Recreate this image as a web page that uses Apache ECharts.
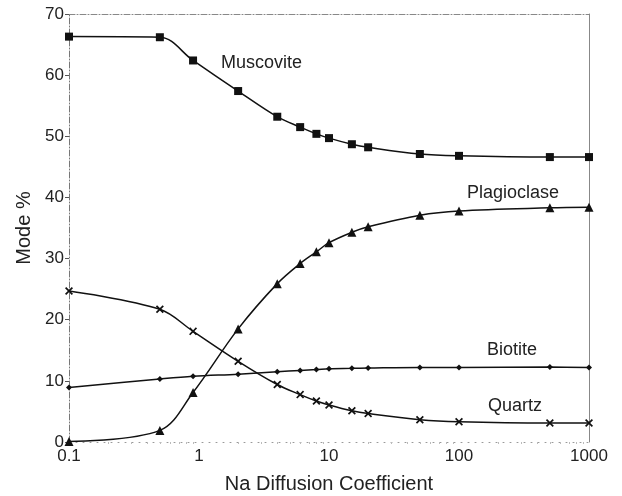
<!DOCTYPE html>
<html><head><meta charset="utf-8">
<script src="https://cdn.jsdelivr.net/npm/echarts@6/dist/echarts.min.js"></script>
<style>html,body{margin:0;padding:0;background:#fff}#c{width:622px;height:496px}</style>
</head><body><div id="c"></div>
<script>
var xValues = [0.1, 0.5, 0.9, 2, 4, 6, 8, 10, 15, 20, 50, 100, 500, 1000];
var muscovite = [66.3, 66.2, 62.4, 57.4, 53.2, 51.5, 50.4, 49.7, 48.7, 48.2, 47.1, 46.8, 46.6, 46.6];
var plagioclase = [0.1, 1.9, 8.1, 18.5, 25.9, 29.2, 31.1, 32.6, 34.3, 35.2, 37.1, 37.8, 38.3, 38.4];
var biotite = [8.9, 10.3, 10.75, 11.1, 11.5, 11.7, 11.85, 12.0, 12.05, 12.1, 12.2, 12.2, 12.25, 12.2];
var quartz = [24.7, 21.7, 18.1, 13.2, 9.4, 7.75, 6.7, 6.05, 5.1, 4.65, 3.65, 3.3, 3.1, 3.1];
var yTicks = [0, 10, 20, 30, 40, 50, 60, 70];
var xTickLabels = ['0.1', '1', '10', '100', '1000'];

function pairs(ys){ return xValues.map(function(x,i){ return [x, ys[i]]; }); }
var xMark = 'path://M0,1.5L1.5,0L5,3.5L8.5,0L10,1.5L6.5,5L10,8.5L8.5,10L5,6.5L1.5,10L0,8.5L3.5,5Z';
var FONT = 'Liberation Sans, Arial, sans-serif';
function mk(name, ys, sym, size){
  return {name:name, type:'line', data:pairs(ys), smooth:0.35, symbol:sym, symbolSize:size,
    showAllSymbol:true, lineStyle:{color:'#111', width:1.5}, itemStyle:{color:'#111'}, z:3};
}
function lbl(text, x, y){
  return {type:'text', x:x, y:y, style:{text:text, font:'18px '+FONT, fill:'#222', textAlign:'left', textVerticalAlign:'middle'}};
}
var chart = echarts.init(document.getElementById('c'));
chart.setOption({
  animation:false,
  backgroundColor:'#fff',
  grid:{left:69, right:33, top:14, bottom:54, containLabel:false, outerBoundsMode:'none'},
  xAxis:[{
    type:'log', logBase:10, min:0.1, max:1000,
    axisLine:{show:true, onZero:false, lineStyle:{color:'#999', type:[1,6], width:1}},
    axisTick:{show:false},
    minorTick:{show:true, splitNumber:9, length:2, lineStyle:{color:'#bbb'}},
    splitLine:{show:false},
    axisLabel:{fontSize:17, color:'#222', fontFamily:FONT, margin:6,
      formatter:function(v){ var s = String(+v.toPrecision(3)); return xTickLabels.indexOf(s) >= 0 ? s : ''; }},
    name:'Na Diffusion Coefficient', nameLocation:'middle', nameGap:32,
    nameTextStyle:{fontSize:20, color:'#222', fontFamily:FONT}
  },{
    type:'log', logBase:10, min:0.1, max:1000, position:'top',
    axisLine:{show:true, onZero:false, lineStyle:{color:'#888', type:[6,2,1,2], width:1}},
    axisTick:{show:false}, axisLabel:{show:false}, splitLine:{show:false}
  }],
  yAxis:[{
    type:'value', min:0, max:70, interval:10,
    axisLine:{show:true, onZero:false, lineStyle:{color:'#777', type:[6,2,1,2], width:1}},
    axisTick:{show:true, length:4, lineStyle:{color:'#555'}},
    splitLine:{show:false},
    axisLabel:{fontSize:17, color:'#222', fontFamily:FONT, margin:5,
      formatter:function(v){ return yTicks.indexOf(v) >= 0 ? String(v) : ''; }},
    name:'Mode %', nameLocation:'middle', nameGap:35, nameRotate:90,
    nameTextStyle:{fontSize:20, color:'#222', fontFamily:FONT}
  },{
    type:'value', min:0, max:70, interval:10, position:'right',
    axisLine:{show:true, onZero:false, lineStyle:{color:'#888', width:1}},
    axisTick:{show:false}, axisLabel:{show:false}, splitLine:{show:false}
  }],
  series:[
    mk('Muscovite', muscovite, 'rect', 8),
    mk('Plagioclase', plagioclase, 'triangle', 9),
    mk('Biotite', biotite, 'diamond', 6),
    mk('Quartz', quartz, xMark, 8)
  ],
  graphic:[
    lbl('Muscovite', 221, 63),
    lbl('Plagioclase', 467, 193),
    lbl('Biotite', 487, 350),
    lbl('Quartz', 488, 406)
  ]
});
</script></body></html>
